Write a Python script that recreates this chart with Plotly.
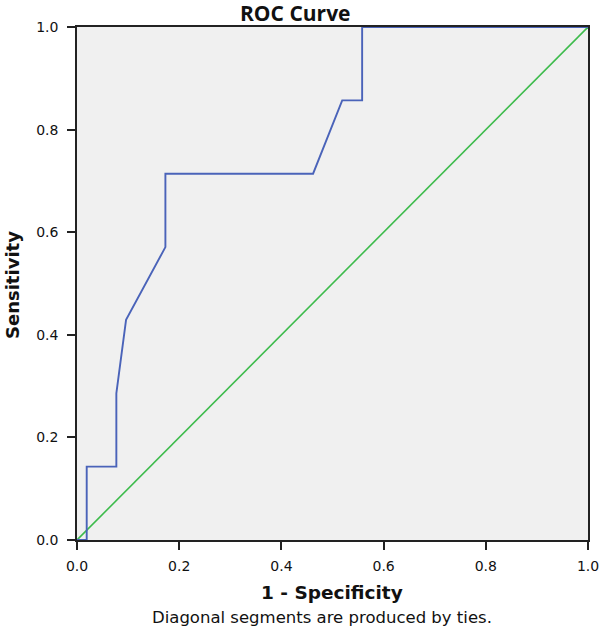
import plotly.graph_objects as go

# ROC curve data (1 - Specificity, Sensitivity)
fpr = [0.0, 0.019, 0.019, 0.077, 0.077, 0.096, 0.173, 0.173, 0.462, 0.519, 0.558, 0.558, 1.0]
tpr = [0.0, 0.0, 0.143, 0.143, 0.286, 0.429, 0.571, 0.714, 0.714, 0.857, 0.857, 1.0, 1.0]
ref_x = [0.0, 1.0]
ref_y = [0.0, 1.0]
tick_vals = [0.0, 0.2, 0.4, 0.6, 0.8, 1.0]
tick_text = ["0.0", "0.2", "0.4", "0.6", "0.8", "1.0"]

W, H = 600, 634
L, R, T, B = 77, 12, 27, 94
pw, ph = W - L - R, H - T - B

fig = go.Figure()
fig.add_trace(go.Scatter(x=ref_x, y=ref_y, mode="lines",
                         line=dict(color="#3dbb4c", width=1.6), hoverinfo="skip"))
fig.add_trace(go.Scatter(x=fpr, y=tpr, mode="lines",
                         line=dict(color="#4a63b9", width=1.9)))

axis_common = dict(
    range=[0, 1], tickvals=tick_vals, ticktext=tick_text, automargin=False,
    showgrid=False, zeroline=False, showline=True, linecolor="#222222", linewidth=1.5,
    mirror=True, ticks="outside", ticklen=8, tickwidth=1.5, tickcolor="#222222",
    tickfont=dict(family="DejaVu Sans", size=14, color="#111111"),
    fixedrange=True,
)

fig.update_layout(
    width=W, height=H, autosize=False,
    margin=dict(l=L, r=R, t=T, b=B),
    paper_bgcolor="white", plot_bgcolor="#f0f0f0",
    showlegend=False,
    xaxis=dict(**axis_common, ticklabelstandoff=4),
    yaxis=dict(**axis_common, ticklabelstandoff=6),
    annotations=[
        dict(text="<b>ROC Curve</b>", xref="paper", yref="paper",
             x=(295 - L) / pw, y=1 + 14 / ph, xanchor="center", yanchor="middle",
             showarrow=False, font=dict(family="Open Sans", size=21, color="#111111")),
        dict(text="<b>1 - Specificity</b>", xref="paper", yref="paper",
             x=(332 - L) / pw, y=-(592 - (H - B)) / ph, xanchor="center", yanchor="middle",
             showarrow=False, font=dict(family="DejaVu Sans", size=18.5, color="#111111")),
        dict(text="<b>Sensitivity</b>", xref="paper", yref="paper", textangle=-90,
             x=-(L - 12) / pw, y=1 - (285 - T) / ph, xanchor="center", yanchor="middle",
             showarrow=False, font=dict(family="DejaVu Sans", size=18, color="#111111")),
        dict(text="Diagonal segments are produced by ties.", xref="paper", yref="paper",
             x=(322 - L) / pw, y=-(617 - (H - B)) / ph, xanchor="center", yanchor="middle",
             showarrow=False, font=dict(family="DejaVu Sans", size=16.5, color="#111111")),
    ],
)

fig.write_html(
    "out.html",
    config={"displayModeBar": False, "responsive": False},
    post_script=("document.body.style.margin='0';document.body.style.overflow='hidden';"
                 "Plotly.relayout('{plot_id}', {width: %d, height: %d, autosize: false});" % (W, H)),
)
